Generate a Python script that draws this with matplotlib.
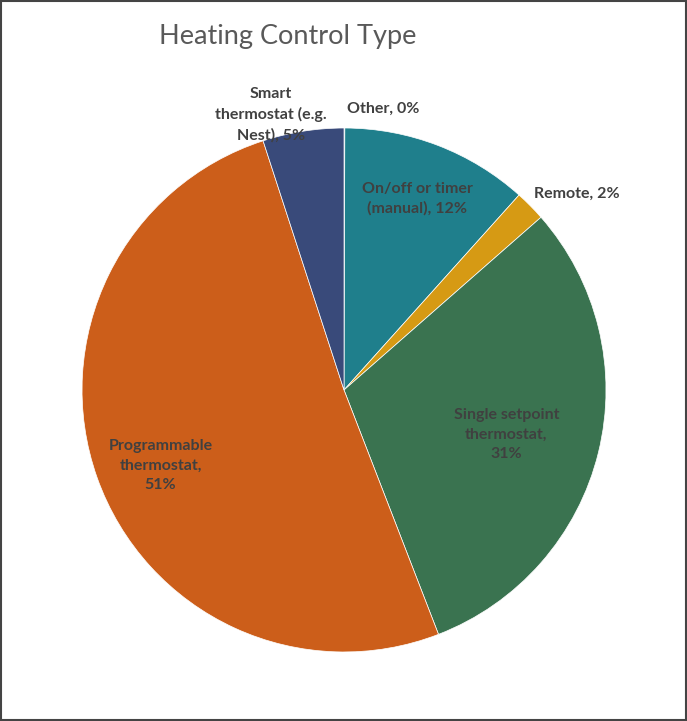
import matplotlib.pyplot as plt
from matplotlib.patches import Rectangle

# Heating control type shares (%), clockwise from 12 o'clock
categories = ['Other', 'On/off or timer\n(manual)', 'Remote',
              'Single setpoint\nthermostat', 'Programmable\nthermostat',
              'Smart\nthermostat (e.g.\nNest)']
shares = [0.05, 11.6, 1.9, 30.6, 50.9, 5.0]
separators = [', ', ', ', ', ', ',\n', ',\n', ', ']
colors = ['#8a8a8a', '#1f7f8c', '#d69a14', '#3a7350', '#cc5e1a', '#394a7a']

# label anchor points in axes data units (pie radius = 1)
label_xy = [(0.15, 1.075), (0.28, 0.73), (0.89, 0.75),
            (0.62, -0.17), (-0.70, -0.29), (-0.28, 1.05)]

plt.rcParams['font.family'] = ['Lato', 'DejaVu Sans']

fig = plt.figure(figsize=(6.87, 7.21), dpi=100)
ax = fig.add_axes([0.1194, 0.0957, 0.7627, 0.7268])

ax.pie(shares, colors=colors, startangle=90, counterclock=False, radius=1,
       wedgeprops=dict(edgecolor='white', linewidth=0.5))
ax.set_xlim(-1, 1)
ax.set_ylim(-1, 1)
ax.set_aspect('equal')
ax.axis('off')

for name, val, sep, (x, y) in zip(categories, shares, separators, label_xy):
    ax.text(x, y, f'{name}{sep}{val:.0f}%', ha='center', va='center',
            fontsize=11.5, fontweight='bold', color='#404040',
            linespacing=1.5)

fig.text(0.419, 0.949, 'Heating Control Type', ha='center', va='center',
         fontsize=19.5, color='#595959')

fig.patches.append(Rectangle((0.001, 0.001), 0.997, 0.997, transform=fig.transFigure,
                             fill=False, edgecolor='#444444', linewidth=1.5))

fig.savefig('out.png', dpi=100)
